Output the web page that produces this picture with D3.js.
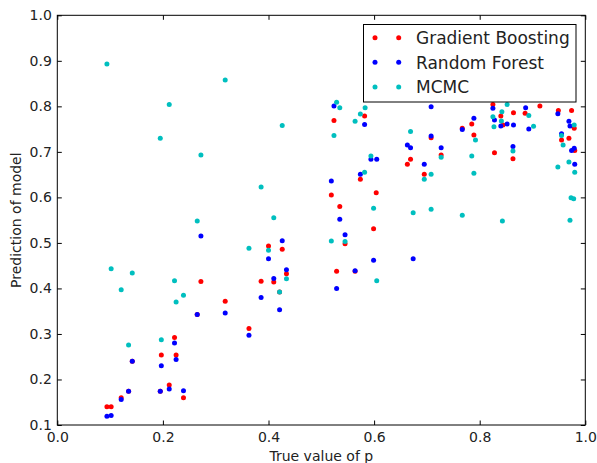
<!DOCTYPE html>
<html><head><meta charset="utf-8">
<script src="https://cdn.jsdelivr.net/npm/d3@7"></script>
<style>
html,body{margin:0;padding:0;background:#fff;}
svg{display:block;font-family:"DejaVu Sans",sans-serif;}
</style></head>
<body>
<svg id="c" width="597" height="463"></svg>
<script>
const seriesNames = ["Gradient Boosting", "Random Forest", "MCMC"];
const seriesColors = ["#ff0000", "#0000ff", "#00bfbf"];
const xTicks = [0.0, 0.2, 0.4, 0.6, 0.8, 1.0];
const yTicks = [0.1, 0.2, 0.3, 0.4, 0.5, 0.6, 0.7, 0.8, 0.9, 1.0];
const xLabel = "True value of p";
const yLabel = "Prediction of model";

const gradientBoosting = [
[0.272,0.415],[0.318,0.372],[0.265,0.343],[0.363,0.312],[0.222,0.292],[0.197,0.254],[0.225,0.254],
[0.142,0.240],[0.212,0.188],[0.195,0.174],[0.135,0.174],[0.239,0.160],[0.121,0.160],[0.094,0.140],
[0.102,0.140],[0.582,0.779],[0.524,0.769],[0.669,0.684],[0.663,0.673],[0.574,0.640],[0.604,0.610],
[0.519,0.605],[0.535,0.580],[0.599,0.531],[0.545,0.498],[0.400,0.493],[0.426,0.486],[0.434,0.432],
[0.386,0.416],[0.410,0.414],[0.564,0.438],[0.529,0.438],[0.421,0.392],[0.825,0.804],[0.914,0.801],
[0.949,0.791],[0.974,0.791],[0.864,0.786],[0.886,0.785],[0.840,0.779],[0.785,0.761],[0.844,0.759],
[0.979,0.752],[0.767,0.752],[0.708,0.731],[0.789,0.737],[0.955,0.726],[0.969,0.730],[0.980,0.703],
[0.828,0.698],[0.727,0.693],[0.863,0.685],[0.695,0.651]
];
const randomForest = [
[0.272,0.515],[0.265,0.343],[0.318,0.346],[0.363,0.297],[0.222,0.280],[0.142,0.240],[0.225,0.244],
[0.197,0.230],[0.212,0.179],[0.195,0.174],[0.135,0.174],[0.239,0.175],[0.121,0.156],[0.094,0.119],
[0.102,0.121],[0.524,0.801],[0.582,0.760],[0.663,0.715],[0.669,0.709],[0.594,0.684],[0.605,0.684],
[0.574,0.651],[0.519,0.636],[0.535,0.552],[0.545,0.518],[0.426,0.505],[0.400,0.465],[0.599,0.462],
[0.674,0.465],[0.434,0.441],[0.410,0.422],[0.564,0.439],[0.529,0.400],[0.386,0.380],[0.421,0.353],
[0.708,0.799],[0.825,0.796],[0.887,0.797],[0.948,0.784],[0.828,0.770],[0.789,0.774],[0.852,0.761],
[0.840,0.757],[0.864,0.759],[0.969,0.767],[0.971,0.757],[0.893,0.750],[0.767,0.749],[0.708,0.735],
[0.955,0.740],[0.727,0.709],[0.863,0.712],[0.979,0.708],[0.974,0.703],[0.695,0.673],[0.980,0.673]
];
const mcmc = [
[0.094,0.893],[0.318,0.858],[0.212,0.804],[0.195,0.730],[0.272,0.693],[0.265,0.548],[0.363,0.488],
[0.102,0.443],[0.142,0.434],[0.222,0.417],[0.121,0.397],[0.239,0.385],[0.225,0.370],[0.135,0.276],
[0.197,0.287],[0.529,0.809],[0.535,0.797],[0.583,0.797],[0.574,0.783],[0.564,0.767],[0.426,0.758],
[0.524,0.736],[0.669,0.745],[0.594,0.691],[0.582,0.655],[0.386,0.623],[0.599,0.576],[0.674,0.566],
[0.410,0.555],[0.519,0.504],[0.545,0.503],[0.400,0.484],[0.434,0.421],[0.605,0.417],[0.421,0.392],
[0.852,0.804],[0.842,0.788],[0.893,0.780],[0.825,0.777],[0.841,0.768],[0.827,0.755],[0.979,0.759],
[0.902,0.756],[0.792,0.726],[0.955,0.736],[0.958,0.715],[0.863,0.702],[0.727,0.688],[0.785,0.691],
[0.969,0.678],[0.948,0.667],[0.708,0.651],[0.695,0.640],[0.789,0.653],[0.980,0.655],[0.973,0.599],
[0.978,0.597],[0.708,0.574],[0.767,0.561],[0.843,0.548],[0.971,0.550]
];
const allSeries = [gradientBoosting, randomForest, mcmc];

const svg = d3.select("#c");
const L = 57.3, R = 585.3, T = 15.3, B = 425;
const x = d3.scaleLinear().domain([0, 1]).range([L, R]);
const y = d3.scaleLinear().domain([0.1, 1.0]).range([B, T]);
const fs = 14;

// points
allSeries.forEach((s, i) => {
  svg.append("g").selectAll("circle").data(s).join("circle")
    .attr("cx", d => x(d[0])).attr("cy", d => y(d[1])).attr("r", 2.5)
    .attr("fill", seriesColors[i]);
});

function styleAxis(g){
  g.select(".domain").remove();
  g.selectAll(".tick line").attr("stroke", "#000").attr("stroke-width", 1);
  g.selectAll(".tick text").attr("fill", "#222").style("font-size", fs + "px")
    .style("font-family", "DejaVu Sans");
}
const fmt = d3.format(".1f");
svg.append("g").attr("transform", `translate(0,${B})`)
  .call(d3.axisBottom(x).tickValues(xTicks).tickFormat(fmt).tickSizeInner(-4.5).tickSizeOuter(0).tickPadding(6.8))
  .call(styleAxis);
svg.append("g").attr("transform", `translate(0,${T})`)
  .call(d3.axisTop(x).tickValues(xTicks).tickFormat("").tickSizeInner(-4.5).tickSizeOuter(0))
  .call(styleAxis);
svg.append("g").attr("transform", `translate(${L},0)`)
  .call(d3.axisLeft(y).tickValues(yTicks).tickFormat(fmt).tickSizeInner(-4.5).tickSizeOuter(0).tickPadding(5.5))
  .call(styleAxis);
svg.append("g").attr("transform", `translate(${R},0)`)
  .call(d3.axisRight(y).tickValues(yTicks).tickFormat("").tickSizeInner(-4.5).tickSizeOuter(0))
  .call(styleAxis);

// frame
svg.append("rect").attr("x", L).attr("y", T).attr("width", R - L).attr("height", B - T)
  .attr("fill", "none").attr("stroke", "#000").attr("stroke-width", 1);

// axis labels
svg.append("text").attr("x", (L + R) / 2).attr("y", 461.3).attr("text-anchor", "middle")
  .style("font-size", fs + "px").attr("fill", "#222").text(xLabel);
svg.append("text").attr("transform", `translate(21,${(T + B) / 2}) rotate(-90)`)
  .attr("text-anchor", "middle").style("font-size", fs + "px").attr("fill", "#222").text(yLabel);

// legend
const lg = svg.append("g");
lg.append("rect").attr("x", 363.5).attr("y", 24.5).attr("width", 212.5).attr("height", 77.5)
  .attr("fill", "#fff").attr("stroke", "#000").attr("stroke-width", 1);
const rowY = [37.7, 62.3, 87];
seriesNames.forEach((n, i) => {
  [375, 398.7].forEach(cx => {
    lg.append("circle").attr("cx", cx).attr("cy", rowY[i]).attr("r", 2.5).attr("fill", seriesColors[i]);
  });
  lg.append("text").attr("x", 416).attr("y", rowY[i] + 6.2).style("font-size", "17px")
    .attr("fill", "#222").text(n);
});
</script>
</body></html>
